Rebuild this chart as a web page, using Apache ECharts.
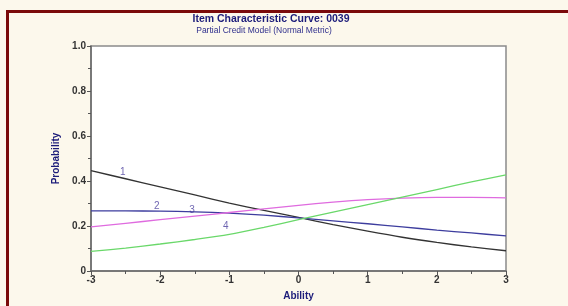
<!DOCTYPE html>
<html>
<head>
<meta charset="utf-8">
<script src="https://cdn.jsdelivr.net/npm/echarts@6/dist/echarts.min.js"></script>
<style>
html,body{margin:0;padding:0;background:#fcf8ec;overflow:hidden;}
#frame{position:absolute;left:6px;top:10px;width:600px;height:320px;border:3px solid #7a0a0a;box-sizing:border-box;}
#chart{position:absolute;left:0;top:0;width:568px;height:306px;}
</style>
</head>
<body>
<div id="frame"></div>
<div id="chart"></div>
<script>
// ability points
var ability = [-3,-2.5,-2,-1.5,-1,-0.5,0,0.5,1,1.5,2,2.5,3];
// category probabilities
var cat1 = [0.446,0.410,0.374,0.338,0.302,0.269,0.238,0.206,0.177,0.150,0.127,0.107,0.090];
var cat2 = [0.267,0.267,0.266,0.263,0.257,0.248,0.236,0.223,0.210,0.196,0.182,0.169,0.156];
var cat3 = [0.196,0.212,0.228,0.244,0.260,0.276,0.292,0.306,0.317,0.324,0.327,0.327,0.325];
var cat4 = [0.087,0.102,0.120,0.140,0.163,0.194,0.228,0.262,0.295,0.328,0.362,0.396,0.427];
var curveNames = ['1','2','3','4'];
var curveColors = ['#333333','#3d3d9e','#df6bdf','#6ad86a'];
// where the curve numbers sit (ability, probability)
var labelX = [-2.54,-2.05,-1.54,-1.05];
var labelY = [0.437,0.287,0.268,0.197];

function pairs(vals){
	var out = [];
	for(var i=0;i<ability.length;i++){
		out.push([ability[i],vals[i]]);
	}
	return out;
}

var allCats = [cat1,cat2,cat3,cat4];
var series = [];
for(var k=0;k<allCats.length;k++){
	series.push({
		name: curveNames[k],
		type: 'line',
		data: pairs(allCats[k]),
		smooth: 0.3,
		symbol: 'none',
		lineStyle: {color: curveColors[k], width: 1.3},
		silent: true,
		z: 3
	});
}
series.push({
	type: 'scatter',
	symbolSize: 0,
	data: labelX.map(function(x,i){ return [x,labelY[i]]; }),
	label: {
		show: true,
		position: 'inside',
		formatter: function(p){ return curveNames[p.dataIndex]; },
		color: '#4a3f9e',
		fontSize: 10,
		fontFamily: 'Liberation Sans'
	},
	z: 5
});

var myChart = echarts.init(document.getElementById('chart'));
var option = {
	animation: false,
	backgroundColor: 'transparent',
	title: [
		{
			text: 'Item Characteristic Curve: 0039',
			left: 266, top: 9, textAlign: 'center',
			textStyle: {color: '#1c1c7a', fontSize: 10.5, fontWeight: 'bold', fontFamily: 'Liberation Sans'}
		},
		{
			text: 'Partial Credit Model (Normal Metric)',
			left: 259, top: 21, textAlign: 'center',
			textStyle: {color: '#2e2e8c', fontSize: 8.5, fontWeight: 'normal', fontFamily: 'Liberation Sans'}
		}
	],
	grid: {
		left: 91, right: 62, top: 46, bottom: 29,
		show: true,
		backgroundColor: '#ffffff',
		borderColor: '#8a8a8a',
		borderWidth: 1.5
	},
	xAxis: {
		type: 'value',
		min: -3, max: 3, interval: 1,
		name: 'Ability',
		nameLocation: 'middle',
		nameGap: 20,
		nameTextStyle: {color: '#1c1c7a', fontSize: 10, fontWeight: 'bold', fontFamily: 'Liberation Sans'},
		axisLine: {show: true, onZero: false, lineStyle: {color: '#6a6a6a', width: 1.5}},
		axisTick: {show: true, length: 4, lineStyle: {color: '#555'}},
		minorTick: {show: true, splitNumber: 2, length: 3, lineStyle: {color: '#555'}},
		splitLine: {show: false},
		axisLabel: {color: '#333', fontSize: 10, fontWeight: 'bold', fontFamily: 'Liberation Sans', margin: 4}
	},
	yAxis: {
		type: 'value',
		min: 0, max: 1, interval: 0.2,
		name: 'Probability',
		nameLocation: 'middle',
		nameGap: 24,
		nameTextStyle: {color: '#1c1c7a', fontSize: 10, fontWeight: 'bold', fontFamily: 'Liberation Sans'},
		axisLine: {show: true, onZero: false, lineStyle: {color: '#6a6a6a', width: 1.5}},
		axisTick: {show: true, length: 4, lineStyle: {color: '#555'}},
		minorTick: {show: true, splitNumber: 2, length: 3, lineStyle: {color: '#555'}},
		splitLine: {show: false},
		axisLabel: {
			color: '#333', fontSize: 10, fontWeight: 'bold', fontFamily: 'Liberation Sans', margin: 5,
			formatter: function(v){ return v===0 ? '0' : v.toFixed(1); }
		}
	},
	series: series
};
myChart.setOption(option);
</script>
</body>
</html>
